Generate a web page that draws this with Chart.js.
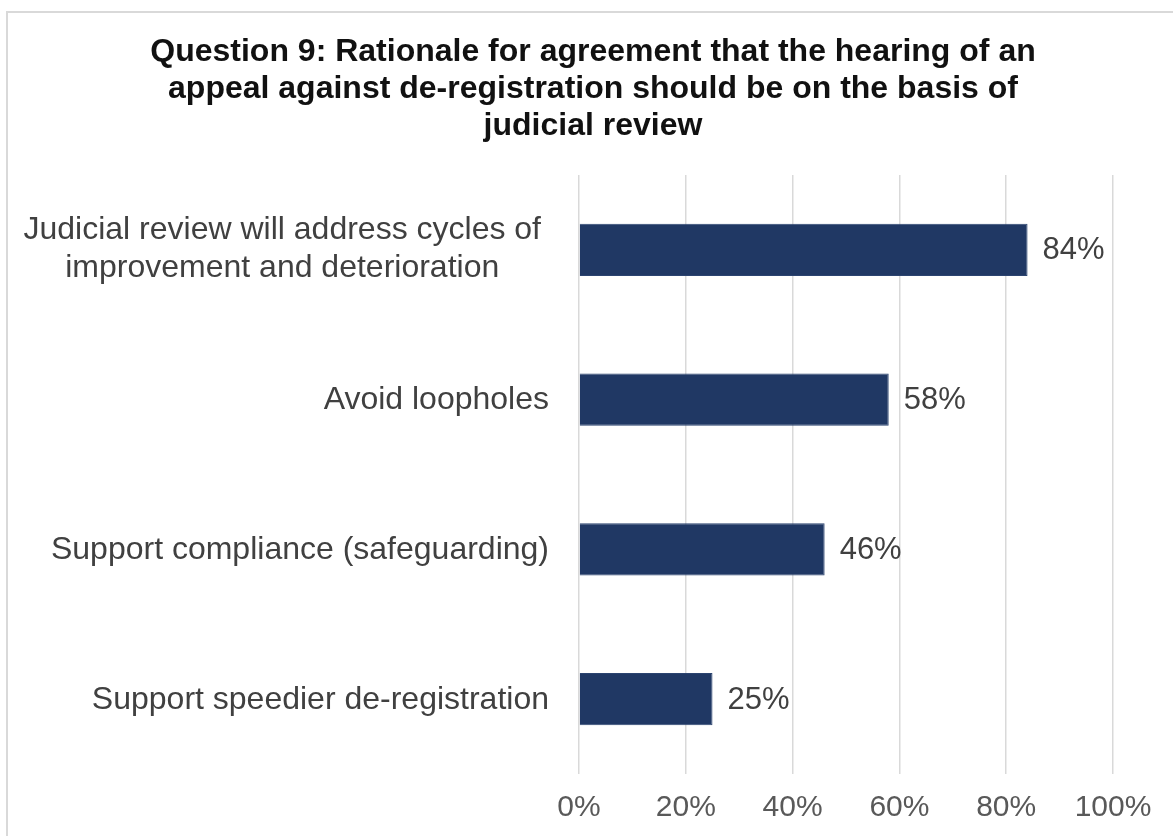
<!DOCTYPE html>
<html>
<head>
<meta charset="utf-8">
<script src="https://cdn.jsdelivr.net/npm/chart.js@4/dist/chart.umd.min.js"></script>
<style>
  html, body { margin: 0; padding: 0; background: #fff; overflow: hidden; }
  #frame { position: absolute; left: 6px; top: 11px; width: 1200px; height: 900px; border: 2px solid #d9d9d9; box-sizing: border-box; }
  #c { position: absolute; left: 0; top: 0; }
</style>
</head>
<body>
<div id="frame"></div>
<canvas id="c" width="1173" height="836"></canvas>
<script>
const titleLines = [
  'Question 9: Rationale for agreement that the hearing of an',
  'appeal against de-registration should be on the basis of',
  'judicial review'
];
const categories = [
  ['Judicial review will address cycles of', 'improvement and deterioration'],
  'Avoid loopholes',
  'Support compliance (safeguarding)',
  'Support speedier de-registration'
];
const values = [84, 58, 46, 25];
const tickLabels = ['0%', '20%', '40%', '60%', '80%', '100%'];

const FONT = "'Liberation Sans', Arial, sans-serif";

const categoryLabelPlugin = {
  id: 'categoryLabels',
  afterDraw(chart) {
    const ctx = chart.ctx;
    const yScale = chart.scales.y;
    const right = 549;
    const lineH = 38;
    ctx.save();
    ctx.font = '32px ' + FONT;
    ctx.fillStyle = '#404040';
    ctx.textBaseline = 'middle';
    yScale.getLabels().forEach((lab, i) => {
      const y = yScale.getPixelForValue(i);
      const lines = Array.isArray(lab) ? lab : [lab];
      if (lines.length === 1) {
        ctx.textAlign = 'right';
        ctx.fillText(lines[0], right, y + 1);
      } else {
        const maxW = Math.max(...lines.map(l => ctx.measureText(l).width));
        const cx = right - 8 - maxW / 2;
        ctx.textAlign = 'center';
        const y0 = y - (lines.length - 1) * lineH / 2 - 1;
        lines.forEach((l, k) => ctx.fillText(l, cx, y0 + k * lineH));
      }
    });
    ctx.restore();
  }
};

const valueLabelPlugin = {
  id: 'valueLabels',
  afterDatasetsDraw(chart) {
    const ctx = chart.ctx;
    const meta = chart.getDatasetMeta(0);
    ctx.save();
    ctx.font = '31px ' + FONT;
    ctx.fillStyle = '#404040';
    ctx.textAlign = 'left';
    ctx.textBaseline = 'middle';
    meta.data.forEach((bar, i) => {
      ctx.fillText(values[i] + '%', bar.x + 15, bar.y + 1);
    });
    ctx.restore();
  }
};

new Chart(document.getElementById('c'), {
  type: 'bar',
  data: {
    labels: categories,
    datasets: [{
      data: values,
      backgroundColor: '#203864',
      borderColor: '#2c4470',
      borderWidth: 1,
      barPercentage: 0.35,
      categoryPercentage: 1.0
    }]
  },
  options: {
    indexAxis: 'y',
    responsive: false,
    animation: false,
    devicePixelRatio: 1,
    layout: { padding: { left: 73, right: 60, top: 22, bottom: -6 } },
    plugins: {
      legend: { display: false },
      tooltip: { enabled: false },
      title: {
        display: true,
        text: titleLines,
        color: '#111111',
        font: { family: FONT, size: 32, weight: 'bold', lineHeight: 1.15 },
        padding: { top: 12, bottom: 30.6 }
      }
    },
    scales: {
      x: {
        min: 0,
        max: 100,
        ticks: {
          stepSize: 20,
          padding: 16,
          color: '#595959',
          font: { family: FONT, size: 30, lineHeight: 1.2 },
          callback: (v, idx) => tickLabels[idx]
        },
        grid: { color: '#d9d9d9', lineWidth: 1.5, drawTicks: false },
        border: { display: false }
      },
      y: {
        ticks: { display: false },
        grid: { display: false, drawTicks: false },
        border: { display: false },
        afterFit(scale) { scale.width = 506; }
      }
    }
  },
  plugins: [categoryLabelPlugin, valueLabelPlugin]
});
</script>
</body>
</html>
